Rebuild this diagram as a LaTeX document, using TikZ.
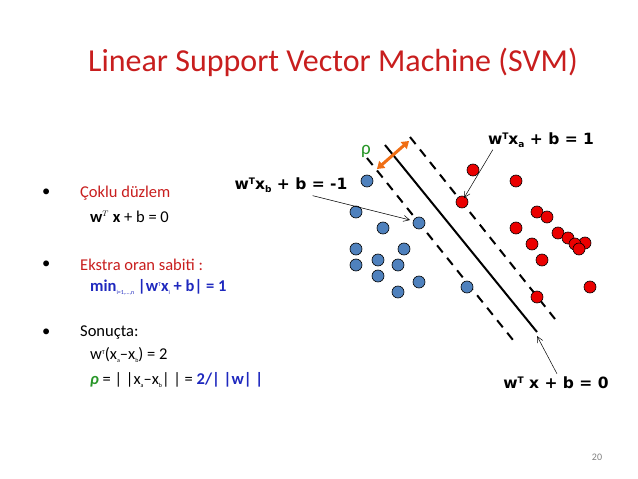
\documentclass[tikz,border=0pt]{standalone}
\usepackage{fontspec}
\setmainfont{Carlito}
\newfontfamily\djfont{DejaVu Sans}
\usetikzlibrary{arrows.meta}
\definecolor{tred}{RGB}{200,30,30}
\definecolor{tblue}{RGB}{30,40,190}
\definecolor{tgreen}{RGB}{40,150,40}
\definecolor{bpt}{RGB}{79,129,189}
\definecolor{rpt}{RGB}{235,0,0}
\definecolor{orng}{RGB}{240,110,20}
\begin{document}
\begin{tikzpicture}[x=1pt,y=-1pt,
  txt/.style={anchor=west,inner sep=0,font=\fontsize{16.5}{18}\selectfont},
  lbl/.style={inner sep=0,font=\djfont\bfseries\fontsize{15.5}{17}\selectfont},
  bp/.style={circle,draw=black,fill=bpt,minimum size=12,inner sep=0,line width=0.6},
  rp/.style={circle,draw=black,fill=rpt,minimum size=12,inner sep=0,line width=0.6},
  dsh/.style={line width=2,dash pattern=on 9pt off 7pt},
  ptr/.style={-{Straight Barb[length=6pt,width=6pt]},line width=0.5}]
\useasboundingbox (0,0) rectangle (638,479);
\node[font=\fontsize{32}{35}\selectfont,text=tred] (title) at (333,62) {Linear Support Vector Machine (SVM)};
% left text
\node[txt] (b1) at (42,193) {•};
\node[txt,text=tred] (t1) at (80,193) {Çoklu düzlem};
\node[txt] (t1b) at (90,217) {$\mathbf{w}^{\scriptscriptstyle T}$ \textbf{x} + b = 0};
\node[txt] (b2) at (42,265) {•};
\node[txt,text=tred] (t2) at (80,265) {Ekstra oran sabiti :};
\node[txt,text=tblue] (t2b) at (90,287) {\textbf{min}\raisebox{-3pt}{\fontsize{6}{6}\selectfont i=1,…,n}\ \textbf{|w}\raisebox{5pt}{\fontsize{6}{6}\selectfont T}\textbf{x}\raisebox{-3pt}{\fontsize{6}{6}\selectfont i}\textbf{ + b| = 1}};
\node[txt] (b3) at (42,333) {•};
\node[txt] (t3) at (80,333) {Sonuçta:};
\node[txt] (t3b) at (90,355) {w\raisebox{5pt}{\fontsize{6}{6}\selectfont T}(x\raisebox{-3pt}{\fontsize{6}{6}\selectfont a}–x\raisebox{-3pt}{\fontsize{6}{6}\selectfont b}) = 2};
\node[txt] (t3c) at (90,380) {\textcolor{tgreen}{\textbf{\textit{ρ}}} = | |x\raisebox{-3pt}{\fontsize{6}{6}\selectfont a}–x\raisebox{-3pt}{\fontsize{6}{6}\selectfont b}| | = \textcolor{tblue}{\textbf{2/| |w| |}}};
% lines
\coordinate (s1) at (385,145); \coordinate (s2) at (537,332);
\coordinate (l1) at (367,158); \coordinate (l2) at (513,340);
\coordinate (r1) at (410,137); \coordinate (r2) at (555,319);
\draw[line width=2] (s1) -- (s2);
\draw[dsh] (l1) -- (l2);
\draw[dsh] (r1) -- (r2);
% points
\foreach \x/\y [count=\i] in {367/181,356/212,383/228,419/223,356/249,404/249,356/265,378/260,398/265,378/276,419/282,398/292,467/287}
  \node[bp] (b\i) at (\x,\y) {};
\foreach \x/\y [count=\i] in {473/170,516/181,462/202,537/212,547/217,516/228,558/233,568/238,585/243,575/244,579/249,532/244,542/260,590/287,537/297}
  \node[rp] (r\i) at (\x,\y) {};
% orange arrow
\coordinate (o1) at (377,169); \coordinate (o2) at (409,141);
\draw[orng,line width=3,{Triangle[length=7pt,width=9pt]}-{Triangle[length=7pt,width=9pt]}] (o1) -- (o2);
\node[text=tgreen,font=\fontsize{19}{21}\selectfont] (rho) at (366,151) {ρ};
% labels
\node[lbl] (la) at (541,140) {w\raisebox{5pt}{\fontsize{9}{9}\selectfont T}x\raisebox{-3pt}{\fontsize{9}{9}\selectfont a} + b = 1};
\node[lbl] (lb) at (291,185) {w\raisebox{5pt}{\fontsize{9}{9}\selectfont T}x\raisebox{-3pt}{\fontsize{9}{9}\selectfont b} + b = -1};
\node[lbl] (lc) at (556,383) {w\raisebox{5pt}{\fontsize{9}{9}\selectfont T} x + b = 0};
\coordinate (pa) at (464,198); \coordinate (pb) at (410,220); \coordinate (pc) at (537,336);
\draw[ptr] (la.south west) ++(5,2) -- (pa);
\draw[ptr] (lb.south east) ++(-35,3) -- (pb);
\draw[ptr] (lc.north) ++(1,-3) -- (pc);
\node[text=gray,font=\fontsize{10}{12}\selectfont] (pg) at (597,457) {20};
\end{tikzpicture}
\end{document}
